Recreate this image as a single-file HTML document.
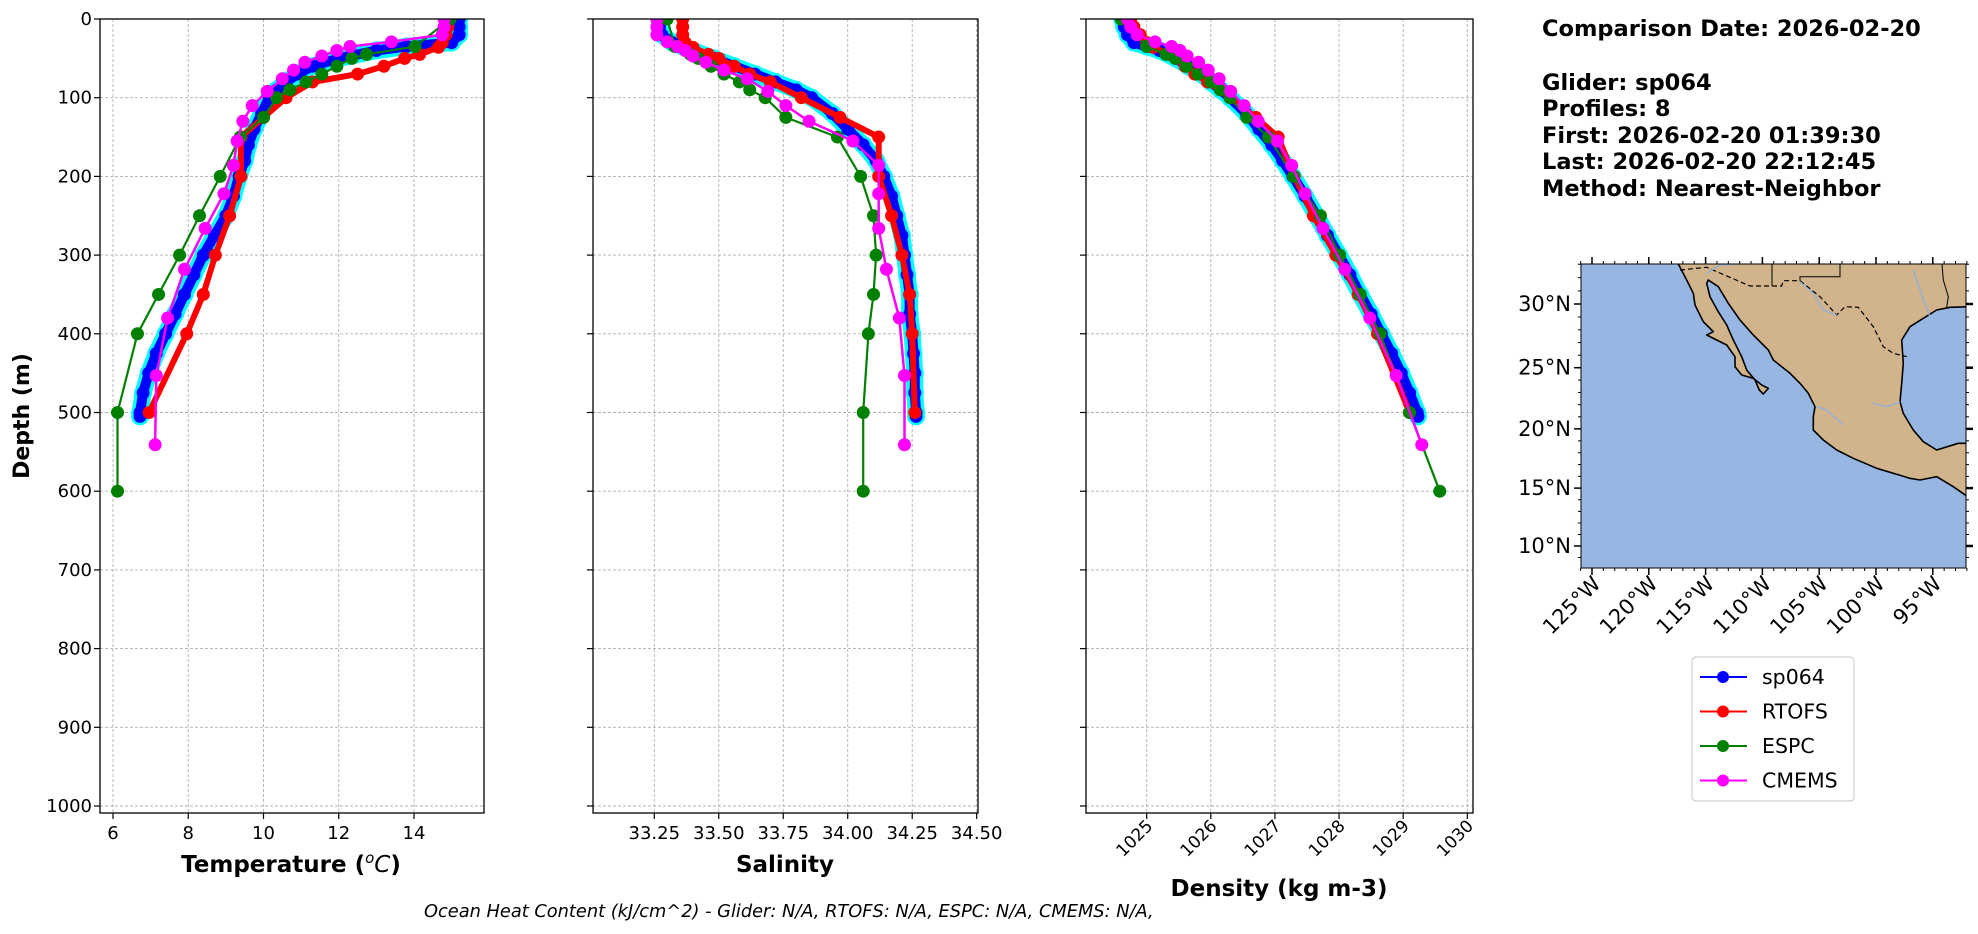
<!DOCTYPE html>
<html><head><meta charset="utf-8">
<style>
html,body{margin:0;padding:0;background:#fff;}
svg{display:block;font-family:"DejaVu Sans","Liberation Sans",sans-serif;}
</style></head>
<body>
<svg id="fig" width="1978" height="934" viewBox="0 0 1978 934" xmlns="http://www.w3.org/2000/svg">
<rect width="1978" height="934" fill="#fff"/>
<g id="panels"></g>
<text x="29" y="416" transform="rotate(-90 29 416)" text-anchor="middle" font-size="22" font-weight="bold">Depth (m)</text>
<text x="291" y="872" text-anchor="middle" font-size="23" font-weight="bold">Temperature (<tspan font-style="italic" font-weight="normal" baseline-shift="super" font-size="15">o</tspan><tspan font-style="italic" font-weight="normal">C</tspan>)</text>
<text x="785" y="872" text-anchor="middle" font-size="23" font-weight="bold">Salinity</text>
<text x="1279" y="896" text-anchor="middle" font-size="23" font-weight="bold">Density (kg m-3)</text>
<text x="424" y="917" font-size="17.8" font-style="italic">Ocean Heat Content (kJ/cm^2) - Glider: N/A,  RTOFS: N/A,  ESPC: N/A,  CMEMS: N/A,</text>
<g font-size="22.5" font-weight="bold">
<text x="1542" y="36">Comparison Date: 2026-02-20</text>
<text x="1542" y="90">Glider: sp064</text>
<text x="1542" y="116">Profiles: 8</text>
<text x="1542" y="143">First: 2026-02-20 01:39:30</text>
<text x="1542" y="169">Last: 2026-02-20 22:12:45</text>
<text x="1542" y="196">Method: Nearest-Neighbor</text>
</g>
<g id="map"></g>
<g id="legend"></g>
</svg>
<script>
// ---- data ----
const gliderDepth=[0,10,20,30,35,40,50,60,70,80,90,100,120,140,160,180,200,225,250,275,300,325,350,375,400,425,450,475,500,505];
const gliderTemp=[15.2,15.2,15.2,15.0,13.8,13.0,12.0,11.3,10.9,10.6,10.35,10.15,9.95,9.75,9.6,9.5,9.35,9.2,9.0,8.7,8.4,8.15,7.9,7.65,7.4,7.15,6.95,6.8,6.72,6.72];
const gliderSal=[33.27,33.27,33.28,33.32,33.36,33.40,33.48,33.56,33.64,33.72,33.80,33.86,33.94,34.00,34.06,34.11,34.14,34.17,34.19,34.21,34.22,34.23,34.24,34.24,34.25,34.255,34.26,34.26,34.265,34.265];
const gliderDen=[1024.62,1024.65,1024.7,1024.8,1025.0,1025.2,1025.45,1025.65,1025.85,1026.0,1026.15,1026.3,1026.55,1026.75,1026.95,1027.12,1027.28,1027.47,1027.65,1027.82,1028.0,1028.17,1028.33,1028.5,1028.66,1028.82,1028.97,1029.1,1029.22,1029.23];
const rtofsDepth=[0,10,20,30,36,45,50,60,70,80,100,125,150,200,250,300,350,400,500];
const rtofsTemp=[14.9,14.9,14.85,14.75,14.65,14.15,13.75,13.2,12.5,11.3,10.6,10.0,9.4,9.4,9.1,8.72,8.4,7.96,6.96];
const rtofsSal=[33.36,33.36,33.36,33.37,33.40,33.46,33.50,33.56,33.62,33.70,33.82,33.97,34.12,34.12,34.17,34.21,34.24,34.25,34.26];
const rtofsDen=[1024.75,1024.8,1024.9,1025.0,1025.1,1025.35,1025.45,1025.6,1025.75,1025.95,1026.3,1026.7,1027.05,1027.3,1027.6,1027.95,1028.3,1028.6,1029.1];
const espcDepth=[0,35,45,50,60,70,80,90,100,125,150,200,250,300,350,400,500,600];
const espcTemp=[14.96,14.03,12.74,12.35,11.95,11.55,11.13,10.7,10.35,10.0,9.38,8.85,8.3,7.77,7.21,6.65,6.12,6.12];
const espcSal=[33.30,33.33,33.39,33.42,33.47,33.52,33.58,33.62,33.68,33.76,33.96,34.05,34.10,34.11,34.10,34.08,34.06,34.06];
const espcDen=[1024.6,1025.0,1025.3,1025.45,1025.62,1025.8,1026.0,1026.15,1026.3,1026.56,1026.9,1027.29,1027.71,1028.01,1028.33,1028.64,1029.1,1029.57];
const cmemsDepth=[0,10,20,29,35,40,47,55,65,76,92,110,130,155,186,222,266,318,380,453,541];
const cmemsTemp=[14.8,14.8,14.75,13.4,12.3,11.95,11.55,11.1,10.8,10.5,10.1,9.7,9.45,9.3,9.2,8.95,8.45,7.9,7.45,7.15,7.12];
const cmemsSal=[33.26,33.26,33.26,33.30,33.34,33.37,33.40,33.45,33.52,33.61,33.69,33.76,33.85,34.02,34.12,34.12,34.12,34.15,34.20,34.22,34.22];
const cmemsDen=[1024.7,1024.75,1024.85,1025.13,1025.39,1025.52,1025.63,1025.81,1025.96,1026.13,1026.31,1026.52,1026.74,1027.04,1027.26,1027.47,1027.75,1028.09,1028.48,1028.89,1029.29];
const depthTicks=[0,100,200,300,400,500,600,700,800,900,1000];
const tempTicks=[6,8,10,12,14];
const salTicks=[33.25,33.50,33.75,34.00,34.25,34.50];
const salTickLabels=["33.25","33.50","33.75","34.00","34.25","34.50"];
const denTicks=[1025,1026,1027,1028,1029,1030];
const latTicks=[10,15,20,25,30];
const lonTicks=[-125,-120,-115,-110,-105,-100,-95];

const NS="http://www.w3.org/2000/svg";
function mk(tag,attrs,parent){const e=document.createElementNS(NS,tag);for(const k in attrs)e.setAttribute(k,attrs[k]);parent.appendChild(e);return e;}
const TOP=19,BOT=813;
function yD(d){return 19+d*0.787;}
const panelsG=document.getElementById('panels');

const panels=[
 {name:'temperature',x0:100,x1:484,v0:6,p0:113,v1:14,p1:414,ticks:tempTicks,labels:tempTicks.map(String),rot:false,
  series:[['glider',gliderDepth,gliderTemp],['rtofs',rtofsDepth,rtofsTemp],['espc',espcDepth,espcTemp],['cmems',cmemsDepth,cmemsTemp]],ylabels:true},
 {name:'salinity',x0:593,x1:978,v0:33.25,p0:654.3,v1:34.5,p1:976.7,ticks:salTicks,labels:salTickLabels,rot:false,
  series:[['glider',gliderDepth,gliderSal],['rtofs',rtofsDepth,rtofsSal],['espc',espcDepth,espcSal],['cmems',cmemsDepth,cmemsSal]],ylabels:false},
 {name:'density',x0:1086,x1:1473,v0:1025,p0:1146.7,v1:1030,p1:1467.3,ticks:denTicks,labels:denTicks.map(String),rot:true,
  series:[['glider',gliderDepth,gliderDen],['rtofs',rtofsDepth,rtofsDen],['espc',espcDepth,espcDen],['cmems',cmemsDepth,cmemsDen]],ylabels:false}
];
const styles={
 glider:[{c:'#00ffff',w:17,r:9},{c:'#0000ff',w:10,r:6.5}],
 rtofs:[{c:'#ff0000',w:6,r:6.5}],
 espc:[{c:'#008000',w:2.2,r:6.5}],
 cmems:[{c:'#ff00ff',w:2.5,r:6.5}]
};
panels.forEach(p=>{
 const g=mk('g',{},panelsG);
 
 
 const xs=v=>p.p0+(v-p.v0)*(p.p1-p.p0)/(p.v1-p.v0);
 depthTicks.forEach(d=>{const l=mk('line',{x1:p.x0,x2:p.x1,y1:yD(d),y2:yD(d),stroke:'#b0b0b0','stroke-width':0.9,'stroke-dasharray':'3,2'},g);
  });
 p.ticks.forEach(v=>{const l=mk('line',{x1:xs(v),x2:xs(v),y1:TOP,y2:BOT,stroke:'#b0b0b0','stroke-width':0.9,'stroke-dasharray':'3,2'},g);
  });
 const clip='clip-'+p.name;
 const cp=mk('clipPath',{id:clip},g);mk('rect',{x:p.x0,y:TOP,width:p.x1-p.x0,height:BOT-TOP},cp);
 const sg=mk('g',{'clip-path':'url(#'+clip+')'},g);
 p.series.forEach(([nm,ds,vs])=>{
  styles[nm].forEach((st,si)=>{
   const pts=ds.map((d,i)=>xs(vs[i]).toFixed(1)+','+yD(d).toFixed(1)).join(' ');
   const pl=mk('polyline',{points:pts,fill:'none',stroke:st.c,'stroke-width':st.w,'stroke-linejoin':'round'},sg);
   
   
   ds.forEach((d,i)=>{const c=mk('circle',{cx:xs(vs[i]),cy:yD(d),r:st.r,fill:st.c},sg);
    
    });
  });
 });
 const fr=mk('rect',{x:p.x0,y:TOP,width:p.x1-p.x0,height:BOT-TOP,fill:'none',stroke:'#000','stroke-width':1.3},g);
 
 depthTicks.forEach(d=>{mk('line',{x1:p.x0-6,x2:p.x0,y1:yD(d),y2:yD(d),stroke:'#000','stroke-width':1.2},g);
  if(p.ylabels){const t=mk('text',{x:p.x0-8,y:yD(d)+6,'text-anchor':'end','font-size':18},g);t.textContent=d;
   }});
 p.ticks.forEach((v,i)=>{const x=xs(v);mk('line',{x1:x,x2:x,y1:BOT,y2:BOT+6,stroke:'#000','stroke-width':1.2},g);
  let t;
  if(p.rot){t=mk('text',{x:x+7,y:BOT+14,'text-anchor':'end','font-size':17,transform:'rotate(-45 '+(x+7)+' '+(BOT+14)+')'},g);}
  else{t=mk('text',{x:x,y:BOT+26,'text-anchor':'middle','font-size':18},g);}
  t.textContent=p.labels[i];
  });
});

// ---- map ----
const M=document.getElementById('map');
const MX0=1581,MX1=1966,MY0=264,MY1=568;
function lonX(lon){return 1592+(lon+125)*11.36;}
function merc(l){return Math.log(Math.tan(Math.PI/4+l*Math.PI/360));}
function latY(lat){return 304-(merc(lat)-merc(30))*647.2;}
function zp(arr){return arr.map(([a,b])=>(1560+a/3).toFixed(1)+','+(250+b/3).toFixed(1)).join(' ');}
const mcp=mk('clipPath',{id:'mapclip'},M);mk('rect',{x:MX0,y:MY0,width:MX1-MX0,height:MY1-MY0},mcp);
const mg=mk('g',{'clip-path':'url(#mapclip)'},M);
const ocean=mk('rect',{x:MX0,y:MY0,width:MX1-MX0,height:MY1-MY0,fill:'#97b6e1'},mg);

const landPts=[[355,42],[380,90],[400,130],[405,165],[430,215],[460,245],[440,255],[470,270],[500,285],[525,320],[525,350],[545,375],[580,385],[605,405],[625,415],[610,432],[598,420],[585,390],[560,360],[545,320],[520,270],[500,225],[475,185],[450,140],[440,100],[445,90],[475,110],[505,160],[540,210],[580,255],[625,300],[640,330],[690,370],[720,400],[745,430],[765,470],[760,500],[760,540],[790,570],[830,600],[880,625],[950,655],[1050,685],[1080,690],[1130,680],[1180,710],[1230,745],[1230,580],[1195,580],[1130,600],[1090,575],[1060,540],[1030,490],[1020,455],[1025,400],[1030,340],[1025,270],[1050,230],[1090,205],[1130,180],[1170,172],[1230,170],[1230,30],[355,30]];
const land=mk('polygon',{points:zp(landPts),fill:'#d2b48c',stroke:'#000','stroke-width':1.6,'stroke-linejoin':'round'},mg);

const border=mk('polyline',{points:zp([[360,60],[440,52],[570,108],[665,108],[670,92],[720,92],[780,140],[830,195],[855,170],[895,172],[940,230],[970,290],[1000,310],[1040,320]]),fill:'none',stroke:'#000','stroke-width':1.2,'stroke-dasharray':'5,3'},mg);

[[[636,30],[636,108]],[[720,92],[720,80],[840,80],[840,30]],[[1145,30],[1150,90],[1165,140],[1160,172]]].forEach(s=>{
 const l=mk('polyline',{points:zp(s),fill:'none',stroke:'#000','stroke-width':1},mg);
 });
[[[935,460],[980,470],[1020,455]],[[770,470],[800,480],[850,525]],[[720,95],[760,130],[790,180],[830,195]],[[440,70],[480,45],[540,42]],[[1060,60],[1090,150],[1110,200]]].forEach(s=>{
 const l=mk('polyline',{points:zp(s),fill:'none',stroke:'#8fb0de','stroke-width':1.3},mg);
 });
mk('rect',{x:MX0,y:MY0,width:MX1-MX0,height:MY1-MY0,fill:'none',stroke:'#000','stroke-width':1},M);
latTicks.forEach(l=>{const y=latY(l);
 mk('line',{x1:MX0-7,x2:MX0,y1:y,y2:y,stroke:'#000','stroke-width':1.5},M);
 mk('line',{x1:MX1,x2:MX1+7,y1:y,y2:y,stroke:'#000','stroke-width':2.5},M);
 const t=mk('text',{x:MX0-10,y:y+7,'text-anchor':'end','font-size':21},M);t.textContent=l+'°N';
 });
for(let l=9;l<=33;l++){const y=latY(l);mk('line',{x1:MX0-3,x2:MX0,y1:y,y2:y,stroke:'#000','stroke-width':1},M);mk('line',{x1:MX1,x2:MX1+3,y1:y,y2:y,stroke:'#000','stroke-width':1},M);}
for(let l=-126;l<=-92;l++){const x=lonX(l);mk('line',{x1:x,x2:x,y1:MY1,y2:MY1+3,stroke:'#000','stroke-width':1},M);mk('line',{x1:x,x2:x,y1:MY0-3,y2:MY0,stroke:'#000','stroke-width':1},M);}
lonTicks.forEach(l=>{const x=lonX(l);
 mk('line',{x1:x,x2:x,y1:MY1,y2:MY1+7,stroke:'#000','stroke-width':1.5},M);
 mk('line',{x1:x,x2:x,y1:MY0-7,y2:MY0,stroke:'#000','stroke-width':1.5},M);
 const tx=x+10,ty=MY1+17;
 const t=mk('text',{x:tx,y:ty,'text-anchor':'end','font-size':21,transform:'rotate(-45 '+tx+' '+ty+')'},M);t.textContent=(-l)+'°W';
 });

// ---- legend ----
const L=document.getElementById('legend');
mk('rect',{x:1692,y:657,width:162,height:144,rx:4,fill:'#fff',stroke:'#d0d0d0','stroke-width':1.2},L);
[['sp064','#0000ff'],['RTOFS','#ff0000'],['ESPC','#008000'],['CMEMS','#ff00ff']].forEach(([n,c],i)=>{
 const y=677+i*34.5;
 const e=mk('g',{},L);
 
 
 mk('line',{x1:1700,x2:1747,y1:y,y2:y,stroke:c,'stroke-width':2},e);
 mk('circle',{cx:1723,cy:y,r:6,fill:c},e);
 const t=mk('text',{x:1762,y:y+7,'font-size':20.5},e);t.textContent=n;
});
</script>
</body></html>
